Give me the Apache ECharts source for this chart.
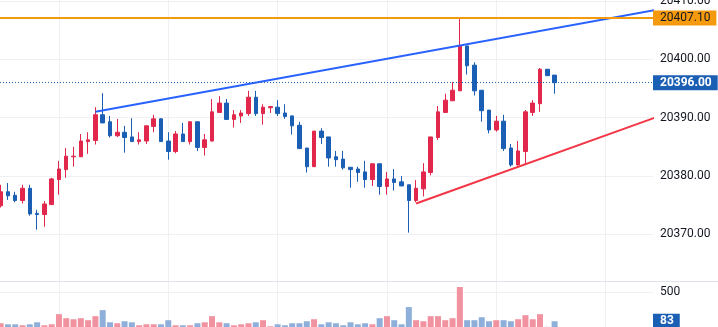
<!DOCTYPE html>
<html>
<head>
<meta charset="utf-8">
<script src="https://cdn.jsdelivr.net/npm/echarts@6/dist/echarts.min.js"></script>
<style>
  html, body { margin: 0; padding: 0; background: #ffffff; }
  #chart { width: 718px; height: 327px; }
</style>
</head>
<body>
<div id="chart"></div>
<script>
// Intraday bars (oldest first)
const opens = [
  20374.9, 20377.3, 20376.7, 20375.8, 20377.9, 20373.6, 20373.4, 20375.1, 20379.4, 20381.1,
  20383.3, 20383.3, 20385.9, 20386.1, 20390.5, 20389.3, 20386.9, 20387.5, 20386.7, 20385.9,
  20386.0, 20388.5, 20389.8, 20386.0, 20384.2, 20387.2, 20385.9, 20389.3, 20384.9, 20386.0,
  20390.9, 20392.5, 20389.7, 20390.3, 20390.7, 20393.5, 20390.7, 20391.7, 20391.8, 20390.8,
  20390.3, 20388.7, 20384.8, 20381.6, 20387.7, 20386.7, 20383.3, 20382.9, 20381.5, 20381.2,
  20380.7, 20379.4, 20382.1, 20378.2, 20379.5, 20379.0, 20378.5, 20375.8, 20377.8, 20380.6,
  20386.6, 20390.9, 20392.9, 20394.6, 20402.3, 20399.0, 20394.7, 20391.3, 20387.9, 20389.4,
  20384.8, 20381.9, 20384.2, 20390.9, 20392.4, 20398.3, 20397.3
];
const highs = [
  20378.5, 20378.8, 20377.3, 20378.5, 20378.5, 20374.2, 20375.7, 20379.7, 20382.6, 20384.8,
  20385.0, 20387.2, 20387.5, 20391.8, 20394.2, 20390.3, 20389.8, 20388.6, 20389.9, 20387.5,
  20388.7, 20390.5, 20389.9, 20387.5, 20387.7, 20389.1, 20389.3, 20389.3, 20387.2, 20393.2,
  20393.7, 20393.2, 20391.3, 20391.3, 20394.6, 20394.6, 20392.3, 20392.0, 20393.0, 20392.3,
  20390.4, 20389.3, 20384.8, 20387.7, 20388.2, 20386.7, 20384.3, 20384.3, 20381.5, 20381.6,
  20382.6, 20382.1, 20382.1, 20380.7, 20381.2, 20380.0, 20378.5, 20379.3, 20382.2, 20386.7,
  20392.0, 20394.1, 20396.1, 20407.1, 20402.3, 20399.5, 20394.7, 20391.3, 20390.3, 20390.5,
  20385.5, 20386.0, 20391.3, 20393.0, 20398.5, 20398.3, 20397.3
];
const lows = [
  20374.6, 20375.9, 20375.5, 20375.3, 20373.2, 20370.8, 20371.3, 20375.1, 20376.8, 20379.7,
  20381.6, 20383.3, 20383.8, 20385.4, 20389.1, 20386.6, 20386.7, 20384.0, 20385.9, 20385.4,
  20385.5, 20387.5, 20385.9, 20382.8, 20383.9, 20385.9, 20385.4, 20384.3, 20383.5, 20385.9,
  20390.9, 20389.7, 20388.3, 20389.1, 20390.3, 20390.3, 20388.8, 20390.8, 20390.3, 20389.8,
  20387.1, 20384.7, 20380.6, 20381.6, 20385.5, 20381.6, 20381.6, 20381.1, 20378.0, 20379.0,
  20378.0, 20378.3, 20376.8, 20376.8, 20377.5, 20378.3, 20370.3, 20375.5, 20376.5, 20380.1,
  20386.2, 20390.9, 20392.9, 20394.6, 20397.4, 20393.8, 20389.3, 20387.3, 20387.6, 20384.3,
  20381.6, 20381.8, 20382.1, 20390.3, 20391.0, 20397.2, 20394.1
];
const closes = [
  20377.3, 20376.6, 20375.8, 20377.9, 20373.5, 20373.4, 20375.2, 20379.5, 20381.2, 20383.4,
  20383.4, 20386.0, 20386.2, 20390.5, 20389.1, 20386.9, 20387.5, 20386.6, 20385.9, 20386.2,
  20388.6, 20389.8, 20385.9, 20384.2, 20387.2, 20385.9, 20389.3, 20384.9, 20386.2, 20391.0,
  20392.5, 20389.7, 20390.5, 20390.8, 20393.5, 20390.7, 20391.8, 20391.9, 20390.7, 20390.2,
  20388.6, 20384.7, 20381.6, 20387.7, 20386.6, 20383.1, 20382.8, 20381.4, 20381.1, 20380.6,
  20379.4, 20382.1, 20378.2, 20379.5, 20378.9, 20378.3, 20375.8, 20377.9, 20380.7, 20386.7,
  20391.0, 20393.0, 20394.7, 20402.3, 20398.9, 20394.6, 20391.2, 20387.9, 20389.4, 20384.7,
  20381.9, 20384.3, 20391.0, 20392.5, 20398.3, 20397.2, 20396.0
];
const volumes = [
   54,  39,  39,  25,  39,  68,  25,  39, 185, 127,
  112, 127,  98, 156, 243,  68,  54,  83,  68,  25,
   39,  39,  39,  98,  25,  25,  25,  54,  68, 156,
   68,  54,  25,  39,  54,  68,  98,  10,  39,  25,
   54,  54,  83, 112,  39,  68,  54,  25,  68,  39,
   54,  39, 127, 156,  98,  39, 287,  98,  83, 156,
  156,  98, 127, 577,  98,  98, 141,  83,  98,  98,
   83, 112, 170, 112, 185,   2,  83
];

// Price scale and layout constants
const slotCount = 90;                  // bar slots across the plot; the tail stays empty
const priceMin = 20360, priceMax = 20410, priceStep = 10;
const volumeMax = 656, volumeStep = 500;
const timeGridSlots = [8, 23, 38, 53, 68, 83];

// Drawn trend lines: [bar slot, price]
const resistanceLine = [[13, 20391.0], [90, 20408.5]];
const supportLine = [[57, 20375.3], [90, 20390.1]];

const UP = '#E1274B', DOWN = '#1B5FB5';
const VOL_UP = '#F0929F', VOL_DOWN = '#8DAFD9';
const GRID = '#F0F0F3', TEXT = '#131722';
const FONT = 'Roboto';

const last = closes.length - 1;
const lastPrice = closes[last];
const sessionHigh = Math.max(...highs);
const lastVolume = volumes[last];

const slots = Array.from({ length: slotCount }, (_, i) => String(i));
const candles = opens.map((o, i) => [o, closes[i], lows[i], highs[i]]);
const volumeBars = volumes.map((v, i) => ({
  value: v,
  itemStyle: { color: closes[i] >= opens[i] ? VOL_UP : VOL_DOWN }
}));

const gridBase = { left: -3, right: 65, containLabel: false, outerBoundsMode: 'none' };
const hiddenX = (gridIndex) => ({
  type: 'category', gridIndex, data: slots, boundaryGap: true, show: false
});
const tagLabel = (text, bg, fg, bold) => ({
  show: true, position: 'end', distance: 0, formatter: text,
  backgroundColor: bg, color: fg, fontFamily: FONT, fontSize: 12,
  fontWeight: bold ? 'bold' : 'normal', lineHeight: 13, padding: [1, 6, 1, 7]
});

const chart = echarts.init(document.getElementById('chart'), null, { renderer: 'canvas' });
chart.setOption({
  animation: false,
  backgroundColor: '#ffffff',
  grid: [
    Object.assign({ top: 1, bottom: 34.3 }, gridBase),
    Object.assign({ top: 281.5, bottom: 0 }, gridBase),
    Object.assign({ top: 0, bottom: 0 }, gridBase)
  ],
  xAxis: [hiddenX(0), hiddenX(1), hiddenX(2)],
  yAxis: [
    {
      type: 'value', gridIndex: 0, position: 'right',
      min: priceMin, max: priceMax, interval: priceStep,
      axisLine: { show: false }, axisTick: { show: false },
      splitLine: { lineStyle: { color: GRID, width: 1 } },
      axisLabel: {
        margin: 7, color: TEXT, fontFamily: FONT, fontSize: 12,
        formatter: (v) => (v === priceMin ? '' : v.toFixed(2))
      }
    },
    {
      type: 'value', gridIndex: 1, position: 'right',
      min: 0, max: volumeMax, interval: volumeStep,
      axisLine: { show: false }, axisTick: { show: false },
      splitLine: { lineStyle: { color: GRID, width: 1 } },
      axisLabel: {
        margin: 7, color: TEXT, fontFamily: FONT, fontSize: 12,
        formatter: (v) => (v === volumeStep ? String(v) : '')
      }
    },
    { type: 'value', gridIndex: 2, min: 0, max: 1, show: false }
  ],
  graphic: [{
    type: 'line', silent: true, z: 10,
    shape: { x1: 0, y1: 281.5, x2: 718, y2: 281.5 },
    style: { stroke: '#E0E3EB', lineWidth: 1 }
  }],
  series: [
    {
      // vertical time grid lines spanning both panes
      type: 'line', xAxisIndex: 2, yAxisIndex: 2, data: [], silent: true,
      markLine: {
        z: 1, silent: true, symbol: ['none', 'none'], animation: false,
        label: { show: false },
        lineStyle: { color: GRID, width: 1, type: 'solid' },
        emphasis: { disabled: true },
        data: timeGridSlots.map((s) => ({ xAxis: s }))
      }
    },
    {
      type: 'candlestick', xAxisIndex: 0, yAxisIndex: 0, data: candles,
      barWidth: 4, z: 2,
      itemStyle: {
        color: UP, color0: DOWN, borderColor: UP, borderColor0: DOWN, borderWidth: 1
      },
      markLine: {
        silent: true, symbol: ['none', 'none'], animation: false,
        emphasis: { disabled: true },
        data: [
          {
            yAxis: sessionHigh,
            lineStyle: { color: '#F59A0C', width: 2, type: 'solid' },
            label: tagLabel(sessionHigh.toFixed(2), '#F59A0C', TEXT, false)
          },
          {
            yAxis: lastPrice,
            lineStyle: { color: DOWN, width: 1, type: [1, 2] },
            label: tagLabel(lastPrice.toFixed(2), DOWN, '#ffffff', true)
          }
        ]
      }
    },
    {
      type: 'line', xAxisIndex: 0, yAxisIndex: 0, data: resistanceLine, z: 4,
      showSymbol: false, symbol: 'none', silent: true, clip: true,
      lineStyle: { color: '#2962FF', width: 2 }
    },
    {
      type: 'line', xAxisIndex: 0, yAxisIndex: 0, data: supportLine, z: 4,
      showSymbol: false, symbol: 'none', silent: true, clip: true,
      lineStyle: { color: '#F23645', width: 2 }
    },
    {
      type: 'bar', xAxisIndex: 1, yAxisIndex: 1, data: volumeBars,
      barWidth: 6, silent: true,
      markLine: {
        silent: true, symbol: ['none', 'none'], animation: false,
        emphasis: { disabled: true },
        data: [{
          yAxis: lastVolume,
          lineStyle: { color: 'rgba(0,0,0,0)', width: 0 },
          label: tagLabel(String(lastVolume), DOWN, '#ffffff', true)
        }]
      }
    }
  ]
});
</script>
</body>
</html>
